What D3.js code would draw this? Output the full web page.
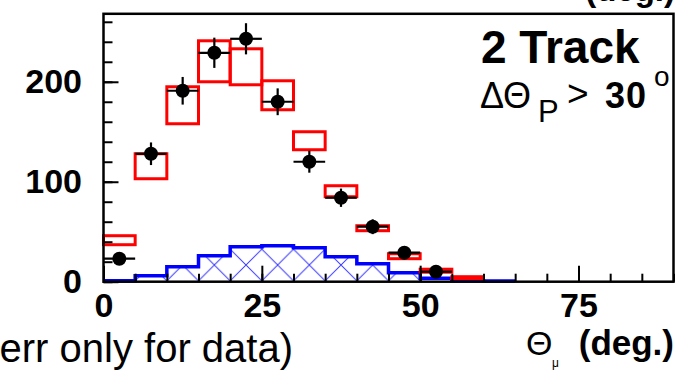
<!DOCTYPE html>
<html>
<head>
<meta charset="utf-8">
<script src="https://cdn.jsdelivr.net/npm/d3@7"></script>
<style>
  html, body { margin: 0; padding: 0; background: #fff; }
  svg { display: block; }
  text { font-family: "Liberation Sans", Arial, Helvetica, sans-serif; fill: #000; }
</style>
</head>
<body>
<svg id="chart" width="679" height="370"></svg>
<script>
// Bin layout: 5-degree bins of the muon angle
const binWidth = 5;
const binLows = [0, 5, 10, 15, 20, 25, 30, 35, 40, 45, 50, 55, 60];

// Data counts (black points, statistical error = sqrt(N))
const dataCounts = [23, 128, 191, 229, 243, 180, 120, 84, 55, 29, 10];

// Simulation band, lower and upper edge per bin (red boxes)
const mcLow  = [37, 103, 158, 200, 197, 172, 132, 85, 51, 23, 9.5, 3];
const mcHigh = [46, 128, 195, 241, 233, 201, 150, 96, 56, 28, 12.5, 5];

// Background estimate (blue hatched histogram)
const bkgCounts = [1, 6, 15, 26, 35, 36, 34, 25, 18, 9, 3.5, 1, 0.7];

// Axis ticks
const xMajorTicks = [0, 25, 50, 75];
const xMinorTicks = d3.range(0, 91, 5);
const yMajorTicks = [0, 100, 200];
const yMinorTicks = d3.range(0, 261, 20);

const svg = d3.select("#chart");
const x = d3.scaleLinear().domain([0, 90]).range([103.5, 673.5]);
const y = d3.scaleLinear().domain([0, 268]).range([281.7, 13.8]);

const bw = x(binWidth) - x(0);

// Cross-hatch pattern for the background histogram
const defs = svg.append("defs");
const pat = defs.append("pattern")
  .attr("id", "xhatch")
  .attr("patternUnits", "userSpaceOnUse")
  .attr("x", x(0))
  .attr("y", 265 - bw / 2)
  .attr("width", bw)
  .attr("height", bw);
pat.append("path")
  .attr("d", `M0,0L${bw},${bw}M0,${bw}L${bw},0M-2,-2L2,2M${bw-2},${bw+2}L${bw+2},${bw-2}`)
  .attr("stroke", "#3a3aff")
  .attr("stroke-width", 1)
  .attr("fill", "none");

// Background histogram: step outline plus hatched area
const bkgPts = [];
bkgCounts.forEach((v, i) => {
  bkgPts.push([binLows[i], v]);
  bkgPts.push([binLows[i] + binWidth, v]);
});
const area = d3.area()
  .x(d => x(d[0]))
  .y0(y(0))
  .y1(d => y(d[1]));
svg.append("path")
  .datum(bkgPts)
  .attr("d", area)
  .attr("fill", "url(#xhatch)");
const line = d3.line().x(d => x(d[0])).y(d => y(d[1]));
svg.append("path")
  .datum(bkgPts)
  .attr("d", line)
  .attr("fill", "none")
  .attr("stroke", "#0000ff")
  .attr("stroke-width", 3.5);

// Simulation band boxes
svg.append("g").selectAll("rect")
  .data(mcLow.map((lo, i) => ({ x0: binLows[i], lo, hi: mcHigh[i] })))
  .join("rect")
  .attr("x", d => x(d.x0))
  .attr("y", d => y(d.hi))
  .attr("width", bw)
  .attr("height", d => y(d.lo) - y(d.hi))
  .attr("fill", "none")
  .attr("stroke", "#ff0000")
  .attr("stroke-width", 3);

// Data points with error bars
const pts = dataCounts.map((v, i) => ({ c: binLows[i] + binWidth / 2, v, e: Math.sqrt(v) }));
const gPts = svg.append("g").attr("stroke", "#000").attr("stroke-width", 2.2);
gPts.selectAll("line.v").data(pts).join("line")
  .attr("class", "v")
  .attr("x1", d => x(d.c)).attr("x2", d => x(d.c))
  .attr("y1", d => y(d.v - d.e)).attr("y2", d => y(d.v + d.e));
gPts.selectAll("line.h").data(pts).join("line")
  .attr("class", "h")
  .attr("x1", d => x(d.c - binWidth / 2)).attr("x2", d => x(d.c + binWidth / 2))
  .attr("y1", d => y(d.v)).attr("y2", d => y(d.v));
svg.append("g").selectAll("circle").data(pts).join("circle")
  .attr("cx", d => x(d.c))
  .attr("cy", d => y(d.v))
  .attr("r", 7)
  .attr("fill", "#000");

// Axes: ticks point into the frame
function styleAxis(g) {
  g.select(".domain").remove();
  g.selectAll(".tick line").attr("stroke", "#000").attr("stroke-width", 2);
  g.selectAll(".tick text")
    .attr("fill", "#000")
    .style("font-size", "34px")
    .style("font-weight", "bold");
}
svg.append("g")
  .attr("transform", `translate(0,${y(0)})`)
  .call(d3.axisBottom(x).tickValues(xMinorTicks).tickSize(-8).tickFormat(""))
  .call(styleAxis);
svg.append("g")
  .attr("transform", `translate(0,${y(0)})`)
  .call(d3.axisBottom(x).tickValues(xMajorTicks).tickSize(-16).tickPadding(11).tickFormat(d3.format("d")))
  .call(styleAxis);
svg.append("g")
  .attr("transform", `translate(${x(0)},0)`)
  .call(d3.axisLeft(y).tickValues(yMinorTicks).tickSize(-9).tickFormat(""))
  .call(styleAxis);
svg.append("g")
  .attr("transform", `translate(${x(0)},0)`)
  .call(d3.axisLeft(y).tickValues(yMajorTicks).tickSize(-15).tickPadding(21.5).tickFormat(d3.format("d")))
  .call(styleAxis);

// Frame
svg.append("rect")
  .attr("x", x(0)).attr("y", y(268))
  .attr("width", x(90) - x(0)).attr("height", y(0) - y(268))
  .attr("fill", "none")
  .attr("stroke", "#000")
  .attr("stroke-width", 2.5);

// Selection labels
svg.append("text")
  .attr("x", 481).attr("y", 63)
  .style("font-size", "46px").style("font-weight", "bold")
  .text("2 Track");

const cutG = svg.append("g");
cutG.append("text").attr("x", 480).attr("y", 108).style("font-size", "36px").text("Δ");
cutG.append("text").attr("x", 503).attr("y", 108).style("font-size", "36px").text("Θ");
cutG.append("text").attr("x", 538).attr("y", 122).style("font-size", "31px").text("P");
cutG.append("text").attr("x", 567).attr("y", 106).style("font-size", "37px").text(">");
cutG.append("text").attr("x", 605).attr("y", 108)
  .style("font-size", "36px").style("font-weight", "bold").style("letter-spacing", "1px").text("30");
cutG.append("text").attr("x", 654).attr("y", 86).style("font-size", "28px").text("o");

// Axis title
svg.append("text").attr("x", 526).attr("y", 355).style("font-size", "34px").text("Θ");
svg.append("text").attr("x", 552).attr("y", 367).style("font-size", "12px").text("μ");
svg.append("text")
  .attr("x", 674).attr("y", 355)
  .attr("text-anchor", "end")
  .style("font-size", "35px").style("font-weight", "bold")
  .text("(deg.)");

svg.append("text")
  .attr("x", 675).attr("y", 1)
  .attr("text-anchor", "end")
  .style("font-size", "33px").style("font-weight", "bold")
  .text("(deg.)");

svg.append("text")
  .attr("x", 293).attr("y", 362)
  .attr("text-anchor", "end")
  .style("font-size", "40px")
  .text("err only for data)");
</script>
</body>
</html>
